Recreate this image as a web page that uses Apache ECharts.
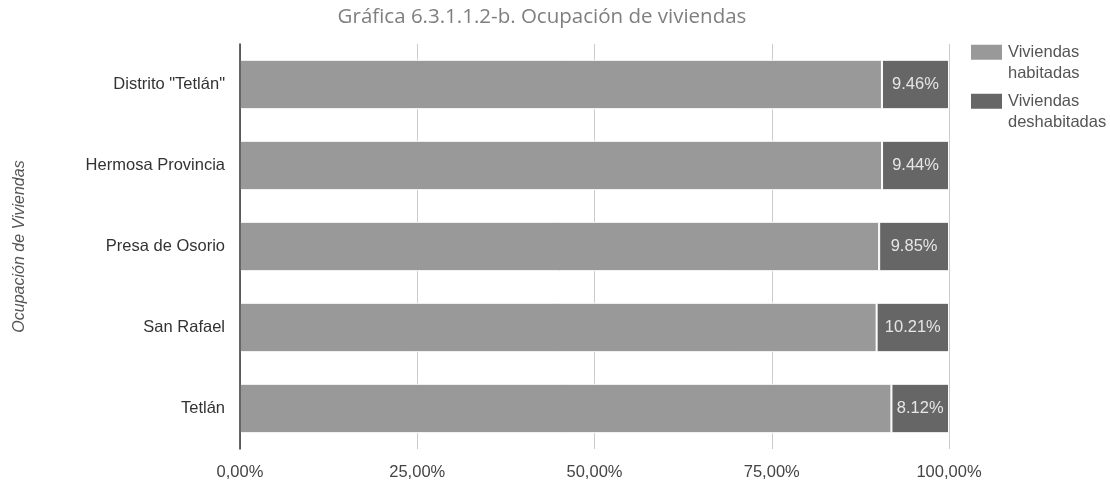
<!DOCTYPE html>
<html>
<head>
<meta charset="utf-8">
<script src="https://cdn.jsdelivr.net/npm/echarts@6/dist/echarts.min.js"></script>
<style>
  html, body { margin: 0; padding: 0; background: #fff; }
  #chart { width: 1110px; height: 481px; }
</style>
</head>
<body>
<div id="chart"></div>
<script>
// Localidades del distrito
const categories = ['Distrito "Tetlán"', 'Hermosa Provincia', 'Presa de Osorio', 'San Rafael', 'Tetlán'];
// Porcentaje de viviendas deshabitadas por localidad
const deshabitadas = [9.46, 9.44, 9.85, 10.21, 8.12];
// Porcentaje de viviendas habitadas (complemento al 100 %)
const habitadas = [90.54, 90.56, 90.15, 89.79, 91.88];
const xTicks = [0, 25, 50, 75, 100];

const FONT = 'Liberation Sans';
const fmt = v => v.toFixed(2).replace('.', ',') + '%';

const chart = echarts.init(document.getElementById('chart'), null, { renderer: 'canvas' });
chart.setOption({
  animation: false,
  backgroundColor: '#ffffff',
  title: {
    text: 'Gráfica 6.3.1.1.2-b. Ocupación de viviendas',
    left: 537, top: 2, textAlign: 'center',
    textStyle: { fontFamily: 'Open Sans', fontWeight: 'normal', fontSize: 20.5, color: '#7f7f7f' }
  },
  legend: {
    orient: 'vertical',
    left: 969, top: 20, padding: 0,
    itemWidth: 33, itemHeight: 17, itemGap: -15.5,
    icon: 'rect',
    data: ['Viviendas habitadas', 'Viviendas deshabitadas'],
    // the empty first line keeps the legend swatch level with the first text line
    formatter: n => '\n' + n.replace(' ', '\n'),
    textStyle: { fontFamily: FONT, fontSize: 16.5, color: '#555', lineHeight: 21.5 }
  },
  grid: { left: 240, right: 161, top: 44, bottom: 29, containLabel: false },
  xAxis: {
    type: 'value', min: xTicks[0], max: xTicks[xTicks.length - 1], interval: 25,
    axisLine: { show: false },
    axisTick: { show: false },
    splitLine: { show: true, lineStyle: { color: '#cccccc', width: 1 } },
    axisLabel: { formatter: v => fmt(v), fontFamily: FONT, fontSize: 16.5, color: '#444', margin: 15 }
  },
  yAxis: {
    type: 'category', data: categories, inverse: true, z: 5,
    name: 'Ocupación de Viviendas', nameLocation: 'middle', nameGap: 212, nameRotate: 90,
    nameTextStyle: { fontFamily: FONT, fontStyle: 'italic', fontSize: 16, color: '#555' },
    axisLine: { show: true, lineStyle: { color: '#333', width: 1.5 } },
    axisTick: { show: false },
    axisLabel: { fontFamily: FONT, fontSize: 16.5, color: '#333', margin: 15 }
  },
  series: [
    {
      name: 'Viviendas habitadas', type: 'bar', stack: 'total', data: habitadas,
      barWidth: '61%',
      itemStyle: { color: '#999999', borderColor: '#ffffff', borderWidth: 1 }
    },
    {
      name: 'Viviendas deshabitadas', type: 'bar', stack: 'total', data: deshabitadas,
      itemStyle: { color: '#666666', borderColor: '#ffffff', borderWidth: 1 },
      label: {
        show: true, position: 'inside', formatter: p => p.value.toFixed(2) + '%',
        fontFamily: FONT, fontSize: 16.5, color: '#e6e6e6'
      }
    }
  ]
});
</script>
</body>
</html>
